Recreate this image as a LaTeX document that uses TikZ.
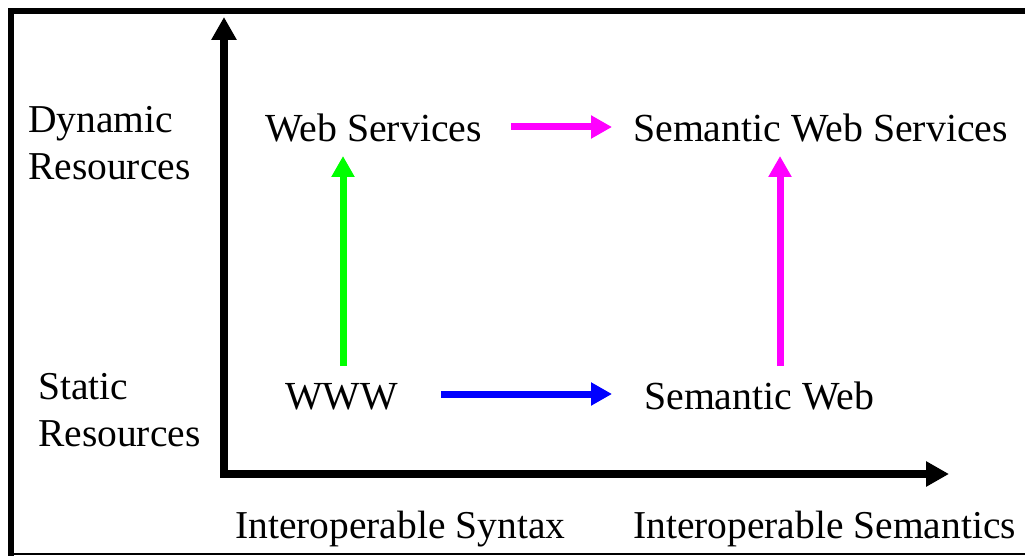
\documentclass[tikz,border=0pt]{standalone}
\usepackage{fontspec}
\setmainfont{Liberation Serif}
\usetikzlibrary{arrows.meta}
\definecolor{arrgreen}{RGB}{0,255,0}
\definecolor{arrmag}{RGB}{255,0,255}
\definecolor{arrblue}{RGB}{0,0,255}
\begin{document}
\begin{tikzpicture}[x=1pt,y=-1pt,
  axislbl/.style={anchor=base west,inner sep=0pt,font=\fontsize{39.5}{47}\selectfont,align=left},
  nodelbl/.style={anchor=base west,inner sep=0pt,font=\fontsize{39.8}{47}\selectfont},
  axisline/.style={line width=8pt,black,{Triangle[width=24pt,length=23pt]}-{Triangle[width=24pt,length=23pt]}},
  flow/.style={line width=7pt,-{Triangle[width=22pt,length=21pt]}}
]
\useasboundingbox (0,0) rectangle (1025,556);
% frame
\draw[line width=6pt] (11,556) -- (11,11) -- (1025,11);
\draw[line width=1.5pt] (8,554) -- (1025,554);
% axes
\coordinate (ytip) at (224,17);
\coordinate (origin) at (224,474);
\coordinate (xtip) at (949,474);
\draw[axisline] (ytip) -- (origin) -- (xtip);
% axis labels
\node[axislbl] (dyn) at (28,133) {Dynamic};
\node[axislbl] (dynres) at (28,180) {Resources};
\node[axislbl] (sta) at (38,399) {Static};
\node[axislbl] (stares) at (38,446) {Resources};
\node[axislbl] (isyn) at (235,538) {Interoperable Syntax};
\node[axislbl] (isem) at (633,538) {Interoperable Semantics};
% nodes
\node[nodelbl] (ws) at (265,142) {Web Services};
\node[nodelbl] (sws) at (633,142) {Semantic Web Services};
\node[nodelbl] (www) at (285,409) {WWW};
\node[nodelbl] (sw) at (644,409) {Semantic Web};
% connector ends
\coordinate (g1) at (343,366);
\coordinate (g2) at (343,156);
\coordinate (m1) at (511,127);
\coordinate (m2) at (612,127);
\coordinate (b1) at (441,394);
\coordinate (b2) at (612,394);
\coordinate (v1) at (780,366);
\coordinate (v2) at (780,156);
\draw[flow,arrgreen] (g1) -- (g2);
\draw[flow,arrmag] (m1) -- (m2);
\draw[flow,arrblue] (b1) -- (b2);
\draw[flow,arrmag] (v1) -- (v2);
\end{tikzpicture}
\end{document}
